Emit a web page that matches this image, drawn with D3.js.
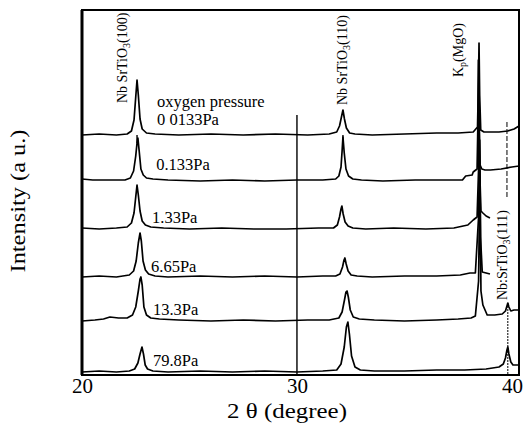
<!DOCTYPE html>
<html>
<head>
<meta charset="utf-8">
<script src="https://cdnjs.cloudflare.com/ajax/libs/d3/7.8.5/d3.min.js"></script>
<style>
  html, body { margin: 0; padding: 0; background: #fff; }
  svg { display: block; }
</style>
</head>
<body>
<svg id="chart" width="529" height="427"></svg>
<script>
// ---------------- data ----------------
const pressureLabels = ["0 0133Pa", "0.133Pa", "1.33Pa", "6.65Pa", "13.3Pa", "79.8Pa"];
// vertical stacking offset of each scan (a.u.)
const offsets = [240, 194, 146, 98, 54, 3];

const theta1 = [20.0, 20.8, 21.6, 22.1, 22.3, 22.42, 22.5, 22.56, 22.62, 22.7, 22.8, 23.0, 23.4, 24.5, 26, 27.5, 29, 30.5, 31.5, 31.85, 31.98, 32.07, 32.14, 32.21, 32.3, 32.45, 32.7, 33.5, 35, 36.5, 37.5, 38.2, 38.4, 38.45, 38.47, 38.5, 38.55, 38.7, 39.0, 39.4, 39.8, 40.1, 40.33];
const int1   = [0, 1, 0, 1, 4, 15, 38, 55, 40, 16, 6, 2, 1, 0, 1, 0, 1, 0, 1, 3, 9, 18, 25, 16, 7, 2, 1, 0, 1, 2, 2, 3, 8, 60, 92, 40, 5, 3, 3, 3, 4, 6, 9];

const theta2 = [20.0, 20.5, 21.5, 22.0, 22.25, 22.4, 22.5, 22.56, 22.6, 22.66, 22.74, 22.85, 23.0, 23.3, 24, 25.5, 27, 28.5, 30, 31.2, 31.8, 31.95, 32.05, 32.1, 32.14, 32.2, 32.28, 32.4, 32.6, 33, 34, 35.5, 37, 37.7, 37.85, 38.15, 38.2, 38.38, 38.42, 38.44, 38.47, 38.52, 38.6, 38.75, 39.0, 39.5, 40.0, 40.33];
const int2   = [2, 1, 1, 1, 3, 10, 25, 38, 43, 30, 12, 6, 3, 2, 1, 0, 1, 0, 1, 1, 2, 5, 14, 30, 44, 28, 12, 5, 2, 1, 0, 1, 1, 1, 5, 6, 9, 12, 60, 121, 60, 16, 12, 11, 11, 12, 14, 15];

const theta3 = [20.0, 20.8, 21.6, 22.1, 22.3, 22.42, 22.5, 22.56, 22.62, 22.7, 22.8, 22.95, 23.2, 23.8, 25, 26.5, 28, 29.5, 31, 31.7, 31.88, 31.98, 32.05, 32.09, 32.15, 32.24, 32.38, 32.6, 33.2, 34.5, 36, 37.3, 37.95, 38.2, 38.38, 38.45, 38.47, 38.5, 38.56, 38.65, 38.8, 38.98];
const int3   = [1, 0, 1, 2, 6, 16, 32, 44, 34, 18, 8, 4, 2, 1, 0, 1, 0, 0, 1, 1, 4, 12, 20, 23, 15, 7, 3, 1, 0, 1, 0, 1, 4, 9, 12, 60, 129, 60, 18, 16, 13, 11];

const theta4 = [20.0, 20.8, 21.6, 22.2, 22.4, 22.52, 22.62, 22.7, 22.76, 22.84, 22.95, 23.1, 23.4, 24, 25.5, 27, 28.5, 30, 31.2, 31.8, 32.0, 32.12, 32.19, 32.23, 32.29, 32.38, 32.52, 32.8, 33.5, 35, 36.5, 37.6, 38.05, 38.3, 38.45, 38.5, 38.54, 38.62, 38.8, 38.98];
const int4   = [0, 1, 0, 2, 6, 16, 34, 44, 36, 16, 7, 3, 1, 0, 1, 0, 1, 0, 1, 1, 3, 10, 17, 19, 13, 6, 2, 1, 0, 1, 1, 2, 4, 4, 60, 137, 40, 5, 4, 3];

const theta5 = [20.0, 20.6, 21.0, 21.3, 21.7, 22.1, 22.35, 22.5, 22.62, 22.7, 22.74, 22.8, 22.88, 23.0, 23.2, 23.6, 24.5, 26, 27.5, 29, 30.5, 31.5, 31.95, 32.1, 32.22, 32.28, 32.33, 32.39, 32.48, 32.62, 32.9, 33.6, 35, 36.5, 37.5, 38.1, 38.3, 38.45, 38.51, 38.56, 38.65, 38.85, 39.2, 39.55, 39.7, 39.77, 39.81, 39.86, 39.95, 40.1, 40.33];
const int5   = [0, 1, 2, 4, 3, 3, 6, 14, 30, 42, 44, 36, 14, 6, 3, 2, 1, 0, 1, 0, 1, 1, 3, 9, 22, 29, 30, 24, 11, 4, 2, 1, 0, 1, 2, 3, 5, 40, 150, 30, 16, 6, 6, 7, 10, 15, 18, 14, 10, 11, 11];

const theta6 = [20.0, 20.8, 21.6, 22.2, 22.45, 22.6, 22.7, 22.79, 22.86, 22.94, 23.05, 23.3, 24, 25.5, 27, 28.5, 30, 31.2, 31.85, 32.05, 32.2, 32.3, 32.37, 32.44, 32.54, 32.7, 32.95, 33.6, 35, 36.5, 37.8, 38.8, 39.4, 39.6, 39.7, 39.77, 39.81, 39.86, 39.95, 40.05, 40.33];
const int6   = [0, 1, 0, 1, 3, 9, 18, 25, 18, 7, 3, 1, 0, 1, 0, 1, 0, 1, 2, 8, 25, 45, 50, 38, 16, 5, 2, 1, 1, 2, 2, 3, 5, 8, 14, 22, 25, 18, 10, 7, 7];

const xTicks = [20, 30, 40];

// ---------------- layout ----------------
const FONT = '"Liberation Serif", "DejaVu Serif", "Times New Roman", Times, serif';
const svg = d3.select("#chart");
const L = 82, R = 519, T = 10, B = 375;
const x = d3.scaleLinear().domain([20, 40.33]).range([L, R]);
const y = d3.scaleLinear().domain([0, 365]).range([B, T]);

const scans = [
  [theta1, int1], [theta2, int2], [theta3, int3],
  [theta4, int4], [theta5, int5], [theta6, int6]
];

const line = d3.line().x(d => x(d[0])).y(d => y(d[1]));

const g = svg.append("g");

// vertical reference line at 30 deg
g.append("line")
  .attr("x1", x(30)).attr("x2", x(30))
  .attr("y1", y(260)).attr("y2", B)
  .attr("stroke", "#000").attr("stroke-width", 1.4);

// leader lines for (111)
g.append("line")
  .attr("x1", x(39.77)).attr("x2", x(39.77))
  .attr("y1", y(253)).attr("y2", y(178))
  .attr("stroke", "#000").attr("stroke-width", 1).attr("stroke-dasharray", "5,2");
g.append("line")
  .attr("x1", x(39.81)).attr("x2", x(39.81))
  .attr("y1", y(offsets[4] + 18)).attr("y2", B)
  .attr("stroke", "#000").attr("stroke-width", 1).attr("stroke-dasharray", "2,1");

// small ticks below the first scan's peaks
[[22.56, 8], [32.14, 13]].forEach(([t, len]) => {
  g.append("line")
    .attr("x1", x(t)).attr("x2", x(t))
    .attr("y1", y(offsets[0])).attr("y2", y(offsets[0]) + len)
    .attr("stroke", "#000").attr("stroke-width", 1.4);
});

// scans
scans.forEach(([th, iv], i) => {
  const pts = th.map((t, k) => [t, iv[k] + offsets[i]]);
  g.append("path")
    .attr("d", line(pts))
    .attr("fill", "none")
    .attr("stroke", "#000")
    .attr("stroke-width", 1.7)
    .attr("stroke-linejoin", "round");
});

// frame
svg.append("rect")
  .attr("x", L).attr("y", T).attr("width", R - L).attr("height", B - T)
  .attr("fill", "none").attr("stroke", "#000").attr("stroke-width", 2);
svg.append("line")
  .attr("x1", L).attr("x2", L).attr("y1", T).attr("y2", B)
  .attr("stroke", "#000").attr("stroke-width", 3);

// x axis
const xAxis = d3.axisBottom(x).tickValues(xTicks).tickSize(0).tickPadding(3).tickFormat(d3.format("d"));
const ax = svg.append("g").attr("transform", `translate(0,${B})`).call(xAxis);
ax.attr("font-family", FONT).attr("font-size", 21);
ax.select(".domain").remove();
ax.selectAll("text")
  .attr("font-family", FONT)
  .attr("font-size", 21)
  .attr("fill", "#000");

function txt(sel) {
  return sel.attr("font-family", FONT).attr("fill", "#000");
}

// axis titles
txt(svg.append("text"))
  .attr("x", 287).attr("y", 418)
  .attr("text-anchor", "middle")
  .attr("textLength", 120).attr("lengthAdjust", "spacingAndGlyphs")
  .attr("font-size", 21)
  .text("2 θ  (degree)");

txt(svg.append("text"))
  .attr("transform", "translate(25,201) rotate(-90)")
  .attr("text-anchor", "middle")
  .attr("textLength", 143).attr("lengthAdjust", "spacingAndGlyphs")
  .attr("font-size", 21)
  .text("Intensity (a  u.)");

// pressure labels
const labelTheta = [23.49, 23.45, 23.26, 23.21, 23.3, 23.3];
const labelRise  = [10, 11, 6, 5, 6, 6];
txt(svg.append("text"))
  .attr("x", x(23.49)).attr("y", y(offsets[0] + 28))
  .attr("font-size", 16.5)
  .text("oxygen pressure");
pressureLabels.forEach((s, i) => {
  txt(svg.append("text"))
    .attr("x", x(labelTheta[i])).attr("y", y(offsets[i] + labelRise[i]))
    .attr("font-size", 16.5)
    .text(s);
});

// peak labels (rotated)
function peakLabel(px, py, parts) {
  const t = txt(svg.append("text"))
    .attr("transform", `translate(${px},${py}) rotate(-90)`)
    .attr("font-size", 14);
  parts.forEach(p => {
    const ts = t.append("tspan").text(p.s);
    if (p.sub) ts.attr("baseline-shift", "-25%").attr("font-size", 10);
  });
}
peakLabel(x(22.56) - 10, 103, [{s: "Nb SrTiO"}, {s: "3", sub: true}, {s: "(100)"}]);
peakLabel(x(32.14) + 4, 105, [{s: "Nb SrTiO"}, {s: "3", sub: true}, {s: "(110)"}]);
peakLabel(x(38.47) - 16, 77, [{s: "K"}, {s: "p", sub: true}, {s: "(MgO)"}]);
peakLabel(x(39.81) - 1, 300, [{s: "Nb:SrTiO"}, {s: "3", sub: true}, {s: "(111)"}]);
</script>
</body>
</html>
